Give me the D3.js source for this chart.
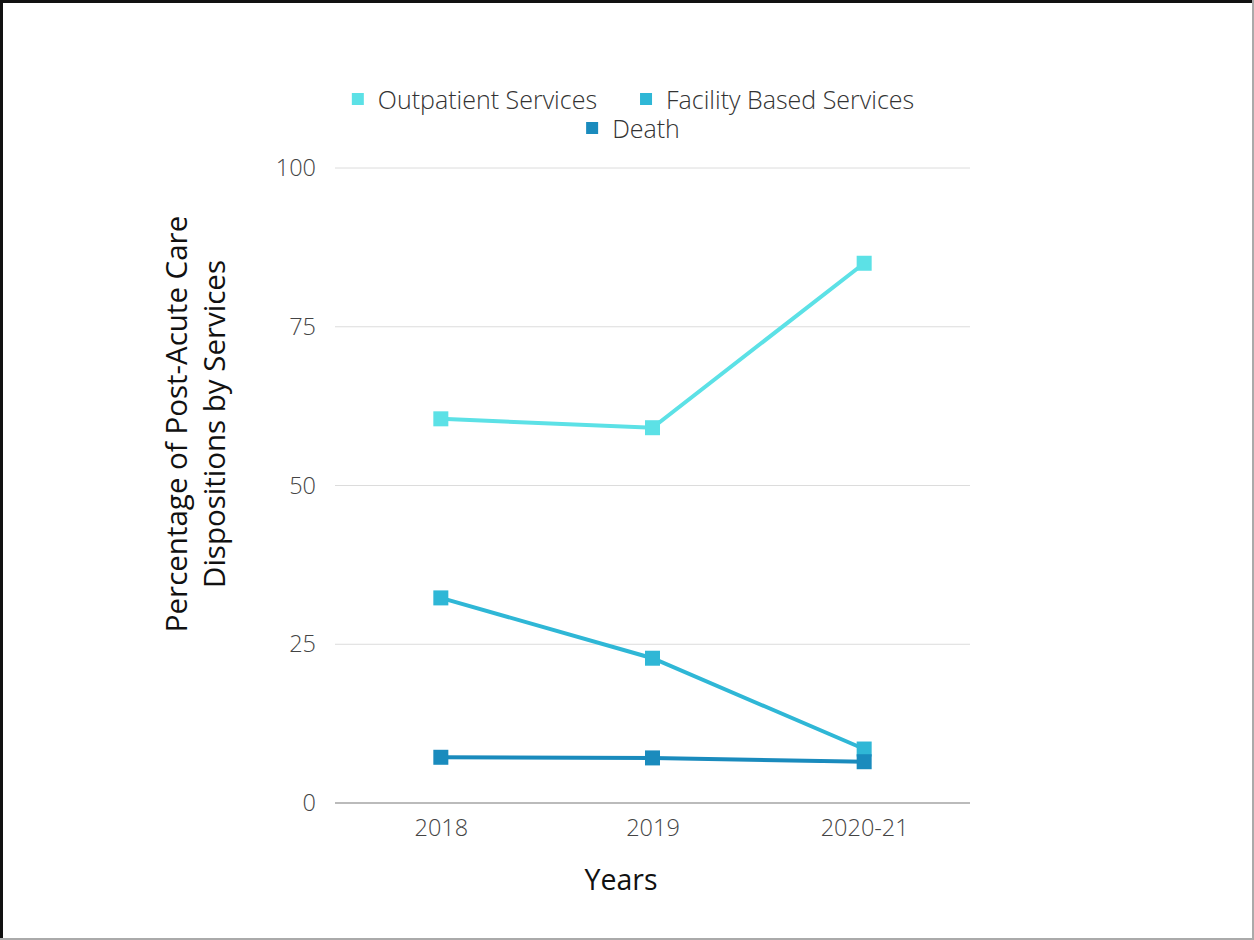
<!DOCTYPE html>
<html>
<head>
<meta charset="utf-8">
<script src="https://cdn.jsdelivr.net/npm/d3@7"></script>
<style>
  body { margin: 0; background: #fff; }
</style>
</head>
<body>
<script>
const W = 1254
const H = 940
const margin = { left: 335, top: 168, right: 284, bottom: 137 }
const width = W - margin.left - margin.right
const height = H - margin.top - margin.bottom

const years = ['2018', '2019', '2020-21']
const seriesNames = ['Outpatient Services', 'Facility Based Services', 'Death']
const outpatient = [60.5, 59.1, 85.0]
const facility = [32.3, 22.8, 8.5]
const death = [7.2, 7.1, 6.5]
const yTicks = [0, 25, 50, 75, 100]
const colors = ['#5ce1e6', '#2fb7d6', '#1a8bbd']

const font = '"Open Sans", sans-serif'

const series = [outpatient, facility, death].map((vals, i) => ({
  name: seriesNames[i],
  color: colors[i],
  values: vals.map((v, j) => ({ year: years[j], v }))
}))

const svg = d3.select('body').append('svg')
  .attr('width', W)
  .attr('height', H)
  .style('font-family', font)

// frame
svg.append('rect')
  .attr('x', 1).attr('y', 1).attr('width', W - 2).attr('height', H - 2)
  .attr('fill', 'none').attr('stroke', '#aaa').attr('stroke-width', 2)
svg.append('path')
  .attr('d', `M1.5,${H - 2}V1.5H${W - 2}`)
  .attr('fill', 'none').attr('stroke', '#111').attr('stroke-width', 3)

const g = svg.append('g').attr('transform', `translate(${margin.left},${margin.top})`)

const x = d3.scalePoint().domain(years).range([0, width]).padding(0.5)
const y = d3.scaleLinear().domain([0, 100]).range([height, 0])

// grid
g.append('g')
  .selectAll('line')
  .data(yTicks.filter(t => t > 0))
  .enter().append('line')
  .attr('x1', 0).attr('x2', width)
  .attr('y1', d => y(d)).attr('y2', d => y(d))
  .attr('stroke', '#dcdcdc').attr('stroke-width', 1)

g.append('line')
  .attr('x1', 0).attr('x2', width)
  .attr('y1', y(0)).attr('y2', y(0))
  .attr('stroke', '#bbb').attr('stroke-width', 2)

// y axis
g.append('g')
  .call(d3.axisLeft(y).tickValues(yTicks).tickSize(0).tickPadding(19))
  .attr('font-family', font)
  .attr('font-size', 23.5)
  .call(a => a.select('.domain').remove())
  .selectAll('text')
  .style('font-weight', 300)
  .attr('fill', '#444')

// x axis
g.append('g')
  .attr('transform', `translate(0,${height})`)
  .call(d3.axisBottom(x).tickSize(0).tickPadding(16))
  .attr('font-family', font)
  .attr('font-size', 23.5)
  .call(a => a.select('.domain').remove())
  .selectAll('text')
  .style('font-weight', 300)
  .attr('fill', '#444')

const line = d3.line()
  .x(d => x(d.year))
  .y(d => y(d.v))

const sg = g.append('g')
  .selectAll('g')
  .data(series)
  .enter().append('g')

sg.append('path')
  .attr('d', d => line(d.values))
  .attr('fill', 'none')
  .attr('stroke', d => d.color)
  .attr('stroke-width', 4)

sg.each((d, i, nodes) => {
  d3.select(nodes[i]).selectAll('rect')
    .data(d.values)
    .enter().append('rect')
    .attr('x', p => x(p.year) - 7.5)
    .attr('y', p => y(p.v) - 7.5)
    .attr('width', 15)
    .attr('height', 15)
    .attr('fill', d.color)
})

// legend
const legendRows = [
  { items: [0, 1], y: 99 },
  { items: [2], y: 128 }
]
const cx = 633
legendRows.forEach(row => {
  const lg = svg.append('g')
  let off = 0
  row.items.forEach(i => {
    const it = lg.append('g').attr('transform', `translate(${off},0)`)
    it.append('rect')
      .attr('x', 0).attr('y', row.y - 6).attr('width', 12).attr('height', 12)
      .attr('fill', colors[i])
    const t = it.append('text')
      .attr('x', 26).attr('y', row.y)
      .attr('dominant-baseline', 'central')
      .style('font-size', '25px')
      .style('font-weight', 300)
      .attr('fill', '#333')
      .text(seriesNames[i])
    off += 26 + t.node().getComputedTextLength() + 43
  })
  const bw = lg.node().getBBox().width
  lg.attr('transform', `translate(${cx - bw / 2},0)`)
})

// axis titles
svg.append('text')
  .attr('transform', `translate(187,424) rotate(-90)`)
  .attr('text-anchor', 'middle')
  .style('font-size', '29.5px')
  .attr('fill', '#111')
  .selectAll('tspan')
  .data(['Percentage of Post-Acute Care', 'Dispositions by Services'])
  .enter().append('tspan')
  .attr('x', 0)
  .attr('dy', (d, i) => i === 0 ? 0 : 38)
  .text(d => d)

svg.append('text')
  .attr('x', 621).attr('y', 890)
  .attr('text-anchor', 'middle')
  .style('font-size', '28.5px')
  .attr('fill', '#111')
  .text('Years')
</script>
</body>
</html>
